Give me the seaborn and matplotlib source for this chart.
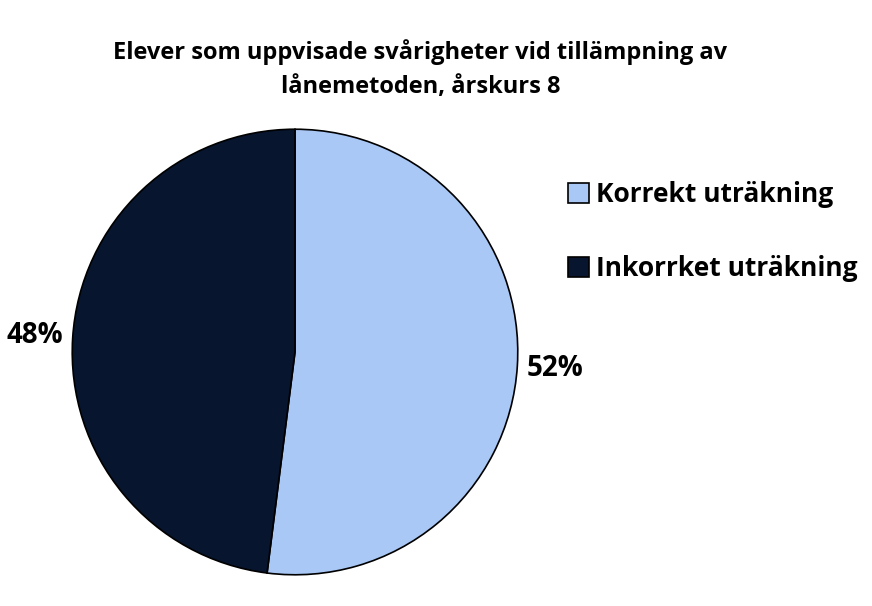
import matplotlib
matplotlib.use("Agg")
import matplotlib.pyplot as plt
import seaborn as sns

categories = ["Korrekt uträkning", "Inkorrket uträkning"]
shares = [52, 48]
colors = ["#A9C8F5", "#07152E"]
title = "Elever som uppvisade svårigheter vid tillämpning av\nlånemetoden, årskurs 8"

sns.set_theme(style="white")
plt.rcParams["font.family"] = ["Open Sans", "DejaVu Sans"]
plt.rcParams["text.color"] = "black"

fig = plt.figure(figsize=(8.72, 6.06), dpi=100)
ax = fig.add_axes([70 / 872, 29 / 606, 450 / 872, 450 / 606])

wedges, texts, autotexts = ax.pie(
    shares, colors=colors, startangle=90, counterclock=False,
    autopct="%d%%", pctdistance=1.17, radius=1,
    wedgeprops=dict(edgecolor="black", linewidth=1.2),
    textprops=dict(fontsize=20, fontweight="bold", color="black"),
)
ax.set_aspect("equal")
ax.set_xlim(-1.01, 1.01)
ax.set_ylim(-1.01, 1.01)

fig.text(0.482, 0.886, title, ha="center", va="center", fontsize=17,
         fontweight="bold", linespacing=1.55, color="black")

leg = fig.legend(wedges, categories, loc="upper left", bbox_to_anchor=(0.624, 0.74),
                 frameon=False, prop=dict(weight="bold", size=19),
                 handlelength=0.8, handleheight=0.8, handletextpad=0.25, labelspacing=1.77)
for t in leg.get_texts():
    t.set_color("black")

fig.savefig("out.png", dpi=100)
